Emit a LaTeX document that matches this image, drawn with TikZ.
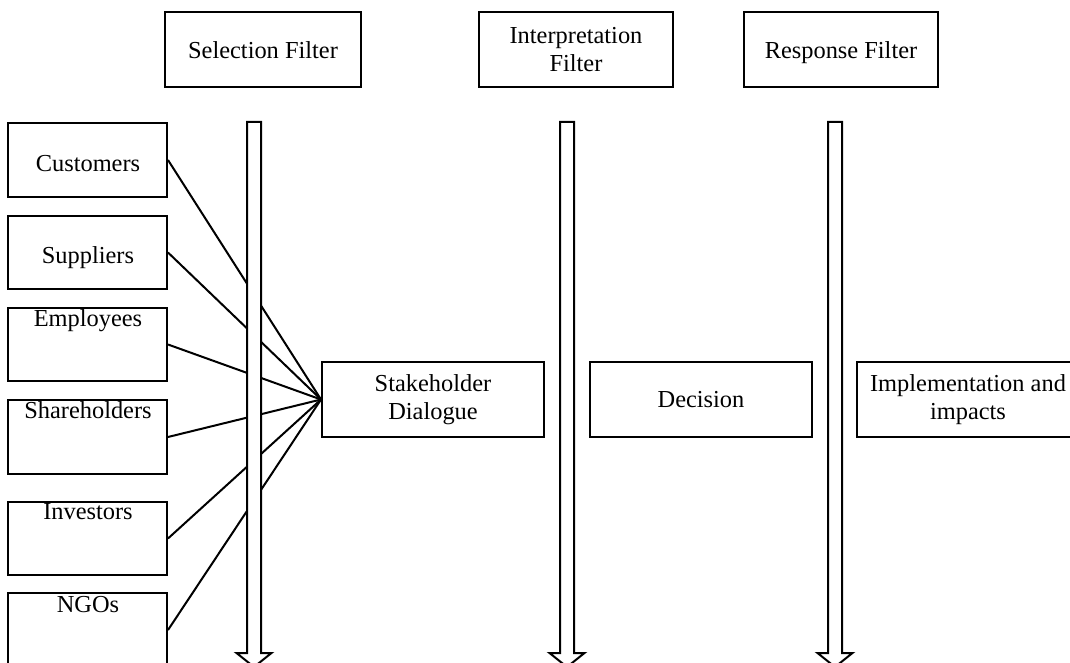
\documentclass[tikz,border=0pt]{standalone}
\usepackage{fontspec}
\setmainfont{Liberation Serif}
\begin{document}
\begin{tikzpicture}[x=1pt,y=-1pt,
  txt/.style={font=\fontsize{24.4}{28}\selectfont, inner sep=0pt},
  box/.style={draw, line width=2pt, inner sep=0pt, align=center, txt},
  topbox/.style={box, minimum height=75pt},
  oneline/.style={text height=18pt, text depth=0pt},
  stakebox/.style={box, minimum width=159pt},
  stepbox/.style={box, minimum width=222pt, minimum height=75pt},
  link/.style={line width=2pt},
  filterarrow/.pic={
    \draw[line width=2pt, fill=white, line join=miter]
      (-7,0) -- (7,0) -- (7,531) -- (17.5,531) -- (0,545)
      -- (-17.5,531) -- (-7,531) -- cycle;
  }]

\fill[white] (0,0) rectangle (1070,663);
\useasboundingbox (0,0) rectangle (1070,663);
\clip (0,0) rectangle (1070,663);

% filter headings
\node[topbox, oneline, minimum width=196pt] (sel) at (263,49.5) {Selection Filter};
\node[topbox, minimum width=194pt] (interp) at (576,49.5) {Interpretation\\Filter};
\node[topbox, oneline, minimum width=194pt] (resp) at (841,49.5) {Response Filter};

% stakeholder groups
\node[stakebox, minimum height=74pt] (cust)  at (87.5,160)   {};
\node[stakebox, minimum height=73pt] (supp)  at (87.5,252.5) {};
\node[stakebox, minimum height=73pt] (emp)   at (87.5,344.5) {};
\node[stakebox, minimum height=74pt] (share) at (87.5,437)   {};
\node[stakebox, minimum height=73pt] (inv)   at (87.5,538.5) {};
\node[stakebox, minimum height=74pt] (ngo)   at (87.5,630)   {};

\node[txt, anchor=base] (cust-t)  at (88,172) {Customers};
\node[txt, anchor=base] (supp-t)  at (88,263) {Suppliers};
\node[txt, anchor=base] (emp-t)   at (88,326) {Employees};
\node[txt, anchor=base] (share-t) at (88,418) {Shareholders};
\node[txt, anchor=base] (inv-t)   at (88,519) {Investors};
\node[txt, anchor=base] (ngo-t)   at (88,612) {NGOs};

% process steps
\node[stepbox] (sd)   at (433,399.5) {Stakeholder\\Dialogue};
\node[stepbox] (dec)  at (701,399.5) {Decision};
\node[stepbox] (impl) at (968,399.5) {Implementation and\\impacts};

% every group feeds the dialogue
\foreach \g in {cust,supp,emp,share,inv,ngo}
  \draw[link] (\g.east) -- (sd.west);

% hollow filter arrows, drawn over the links
\pic (selarrow)    at (254,122) {filterarrow};
\pic (interparrow) at (567,122) {filterarrow};
\pic (resparrow)   at (835,122) {filterarrow};
\end{tikzpicture}
\end{document}
